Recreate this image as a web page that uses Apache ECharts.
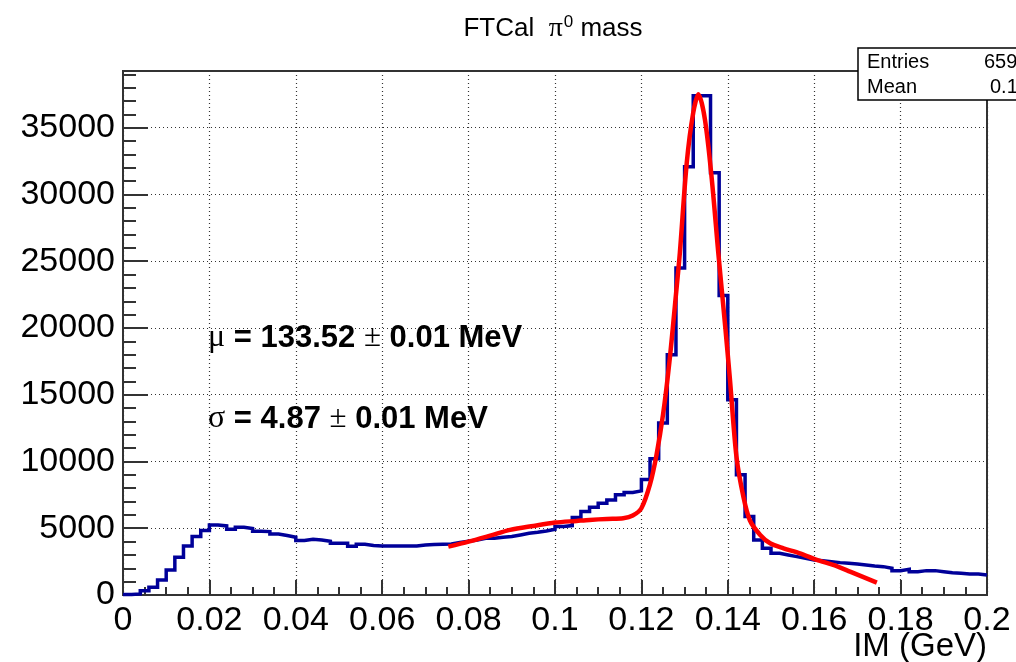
<!DOCTYPE html>
<html>
<head>
<meta charset="utf-8">
<script src="https://cdn.jsdelivr.net/npm/echarts/dist/echarts.min.js"></script>
<style>
  html, body { margin: 0; padding: 0; background: #fff; }
  #chart { width: 1016px; height: 662px; }
</style>
</head>
<body>
<div id="chart"></div>
<script>
// ---------------- data ----------------
const xMin = 0;
const xMax = 0.2;
const binWidth = 0.002;
const yMax = 39250;

// histogram bin contents (100 bins, 0 - 0.2 GeV)
const counts = [
  30, 80, 325, 575, 1125, 1875, 2825, 3675, 4375, 4825,
  5250, 5175, 4925, 5075, 4975, 4775, 4750, 4575, 4450, 4325,
  4075, 4175, 4125, 4025, 3875, 3875, 3650, 3800, 3700, 3675,
  3675, 3675, 3675, 3675, 3750, 3780, 3800, 3825, 3925, 4025,
  4125, 4250, 4250, 4325, 4375, 4500, 4625, 4700, 4800, 4925,
  5125, 5200, 5800, 6250, 6575, 6875, 7125, 7500, 7675, 7800,
  8650, 10200, 12875, 18000, 24500, 32075, 37400, 37400, 31625, 22425,
  14625, 9000, 5875, 4125, 3500, 3125, 3000, 2875, 2750, 2625,
  2575, 2500, 2425, 2375, 2325, 2250, 2175, 2125, 2000, 1825,
  1925, 1750, 1825, 1825, 1750, 1675, 1625, 1575, 1575, 1500
];

// fit curve
const fitX = [0.0753, 0.080, 0.085, 0.0896, 0.095, 0.100, 0.105, 0.108, 0.112, 0.1158,
              0.118, 0.120, 0.122, 0.1235, 0.125, 0.1265, 0.128, 0.1289, 0.1305, 0.132,
              0.1332, 0.1347, 0.1363, 0.1378, 0.1394, 0.1405, 0.142, 0.1436, 0.1451, 0.1475,
              0.1498, 0.1529, 0.1567, 0.1606, 0.1644, 0.1683, 0.1745];
const fitY = [3625, 4000, 4450, 4875, 5175, 5425, 5550, 5625, 5700, 5750,
              5950, 6500, 8300, 10500, 13500, 17500, 22500, 25625, 32375, 36125,
              37500, 35625, 31125, 25625, 20125, 16125, 10375, 7375, 5600, 4500,
              3875, 3500, 3125, 2625, 2250, 1750, 925];

const titleText = ['FTCal  ', 'π', '0', ' mass'];
const muText = ['μ', ' = 133.52 ', '±', ' 0.01 MeV'];
const sigmaText = ['σ', ' = 4.87 ', '±', ' 0.01 MeV'];
const statsLabels = ['Entries', 'Mean'];
const statsValues = ['659', '0.1'];
const xTitle = 'IM (GeV)';

// ---------------- build ----------------
const histData = counts.map((c, i) => [+(xMin + i * binWidth).toFixed(4), c]);
histData.push([xMax, counts[counts.length - 1]]);
const fitData = fitX.map((x, i) => [x, fitY[i]]);

const FONT = "'Liberation Sans', Arial, Helvetica, sans-serif";
const GREEK = "'Liberation Serif', 'Times New Roman', serif";
const AX = '#333';
const dotted = { color: '#333', type: [1, 3], width: 1.2 };

const chart = echarts.init(document.getElementById('chart'), null, { renderer: 'canvas' });

function annot(parts, y) {
  return {
    type: 'text', x: 208, y: y, z: 100,
    style: {
      text: '{g|' + parts[0] + '}{b|' + parts[1] + '}{p|' + parts[2] + '}{b|' + parts[3] + '}',
      align: 'left', verticalAlign: 'middle',
      rich: {
        g: { fontSize: 32, fontFamily: GREEK, fill: '#000' },
        b: { fontSize: 31, fontFamily: FONT, fontWeight: 'bold', fill: '#000' },
        p: { fontSize: 31, fontFamily: GREEK, fill: '#000' }
      }
    }
  };
}

const option = {
  animation: false,
  backgroundColor: '#fff',
  grid: { left: 123, top: 71, right: 29, bottom: 67, show: true, borderColor: AX, borderWidth: 2, backgroundColor: 'transparent' },
  xAxis: {
    type: 'value', min: xMin, max: xMax, interval: 0.02,
    axisLine: { show: true, onZero: false, lineStyle: { color: AX, width: 2 } },
    axisTick: { show: true, inside: true, length: 15, lineStyle: { color: AX, width: 2 } },
    minorTick: { show: true, splitNumber: 4, length: 8, lineStyle: { color: AX, width: 2 } },
    axisLabel: { fontSize: 34, color: '#000', margin: 9, fontFamily: FONT,
      formatter: v => String(+v.toFixed(3)) },
    splitLine: { show: true, lineStyle: dotted }
  },
  yAxis: [
    {
      type: 'value', min: 0, max: yMax, interval: 5000, position: 'left',
      axisLine: { show: true, onZero: false, lineStyle: { color: AX, width: 2 } },
      axisTick: { show: true, inside: true, length: 25, lineStyle: { color: AX, width: 2 } },
      axisLabel: { fontSize: 34, color: '#000', margin: 8, fontFamily: FONT, showMaxLabel: false,
        formatter: v => String(v) },
      splitLine: { show: true, lineStyle: dotted }
    },
    {
      type: 'value', min: 0, max: yMax, interval: 1000, position: 'left',
      axisLine: { show: false },
      axisTick: { show: true, inside: true, length: 13, lineStyle: { color: AX, width: 2 } },
      axisLabel: { show: false },
      splitLine: { show: false }
    }
  ],
  series: [
    {
      type: 'line', data: histData, step: 'end', symbol: 'none', clip: false,
      lineStyle: { color: '#000099', width: 3.5, join: 'miter' }, z: 3, silent: true
    },
    {
      type: 'line', data: fitData, smooth: 0.3, symbol: 'none', clip: false,
      lineStyle: { color: '#ff0000', width: 4.5 }, z: 4, silent: true
    }
  ],
  graphic: [
    {
      type: 'text', x: 553, y: 29, z: 100,
      style: {
        text: '{a|' + titleText[0] + '}{g|' + titleText[1] + '}{s|' + titleText[2] + '}{a|' + titleText[3] + '}',
        align: 'center', verticalAlign: 'middle',
        rich: {
          a: { fontSize: 26, fontFamily: FONT, fill: '#000', lineHeight: 30 },
          g: { fontSize: 28, fontFamily: GREEK, fill: '#000', lineHeight: 30 },
          s: { fontSize: 17, fontFamily: FONT, fill: '#000', verticalAlign: 'top', lineHeight: 30, padding: [0, 0, 0, 1] }
        }
      }
    },
    annot(muText, 338),
    annot(sigmaText, 419),
    {
      type: 'text', right: 29, top: 630, z: 100,
      style: { text: xTitle, fontSize: 33, fontFamily: FONT, fill: '#000' }
    },
    {
      type: 'rect', z: 110,
      shape: { x: 858, y: 48, width: 170, height: 52 },
      style: { fill: '#fff', stroke: '#000', lineWidth: 1.5 }
    },
    {
      type: 'text', x: 867, y: 62, z: 111,
      style: { text: statsLabels[0], fontSize: 20, fontFamily: FONT, fill: '#000', verticalAlign: 'middle' }
    },
    {
      type: 'text', x: 867, y: 87, z: 111,
      style: { text: statsLabels[1], fontSize: 20, fontFamily: FONT, fill: '#000', verticalAlign: 'middle' }
    },
    {
      type: 'text', x: 984, y: 62, z: 111,
      style: { text: statsValues[0], fontSize: 20, fontFamily: FONT, fill: '#000', verticalAlign: 'middle' }
    },
    {
      type: 'text', x: 990, y: 87, z: 111,
      style: { text: statsValues[1], fontSize: 20, fontFamily: FONT, fill: '#000', verticalAlign: 'middle' }
    }
  ]
};
chart.setOption(option);
</script>
</body>
</html>
